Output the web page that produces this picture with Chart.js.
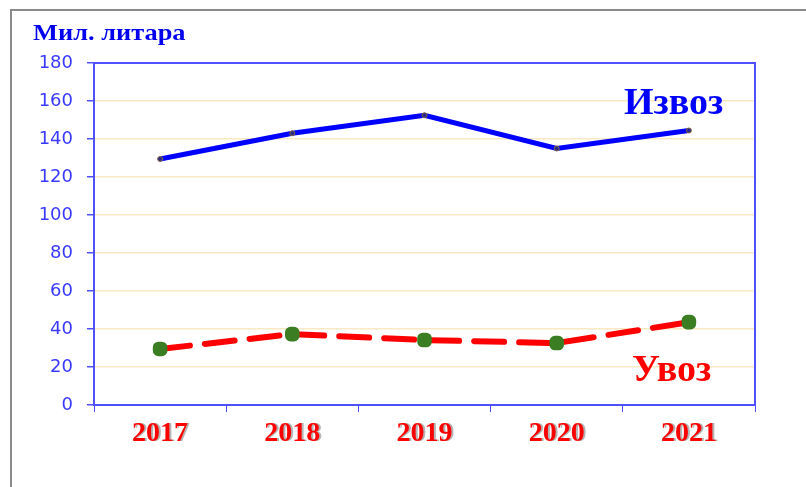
<!DOCTYPE html>
<html>
<head>
<meta charset="utf-8">
<script src="https://cdn.jsdelivr.net/npm/chart.js@4"></script>
<style>
  html, body { margin: 0; padding: 0; background: #fff; }
  #wrap { position: relative; width: 806px; height: 487px; }
  #frame { position: absolute; left: 10px; top: 9px; right: 0; bottom: 0;
           border-top: 2px solid #8a8a8a; border-left: 2px solid #8a8a8a; }
</style>
</head>
<body>
<div id="wrap">
  <div id="frame"></div>
  <canvas id="uvozIzvozChart" width="806" height="487"></canvas>
</div>
<script>
// podaci sa slike (mil. litara)
const godine = ['2017', '2018', '2019', '2020', '2021'];
const izvoz = [129.5, 143, 152.5, 135, 144.5];
const uvoz = [29.5, 37.3, 34.2, 32.6, 43.6];
const yTicks = [0, 20, 40, 60, 80, 100, 120, 140, 160, 180];

const naslov = 'Мил. литара';
const labelIzvoz = 'Извоз';
const labelUvoz = 'Увоз';

const serif = '"Liberation Serif", "DejaVu Serif", serif';

// tekstovi, okvir i senka za godine
const tekstPlugin = {
    id: 'tekstPlugin',
    beforeDraw(chart) {
        const ctx = chart.ctx;
        const x = chart.scales.x;
        ctx.save();
        ctx.font = 'bold 28px ' + serif;
        ctx.fillStyle = 'rgba(120,120,120,0.55)';
        ctx.textAlign = 'center';
        ctx.textBaseline = 'middle';
        godine.forEach((g, i) => {
            ctx.fillText(g, x.getPixelForTick(i) + 2, 432 + 2);
        });
        ctx.restore();
    },
    afterDraw(chart) {
        const ctx = chart.ctx;
        const a = chart.chartArea;
        ctx.save();
        // okvir oko grafikona (gornja i desna ivica)
        ctx.strokeStyle = '#5050ff';
        ctx.lineWidth = 2;
        ctx.beginPath();
        ctx.moveTo(a.left, a.top);
        ctx.lineTo(a.right, a.top);
        ctx.lineTo(a.right, a.bottom);
        ctx.stroke();

        ctx.textBaseline = 'alphabetic';
        ctx.textAlign = 'left';
        ctx.fillStyle = '#0000ee';
        ctx.font = 'bold 24px ' + serif;
        ctx.save();
        ctx.translate(33, 40);
        ctx.scale(1.1, 1);
        ctx.fillText(naslov, 0, 0);
        ctx.restore();

        ctx.fillStyle = '#0000ff';
        ctx.font = 'bold 38px ' + serif;
        ctx.fillText(labelIzvoz, 624, 114);

        ctx.fillStyle = '#ff0000';
        ctx.font = 'bold 38px ' + serif;
        ctx.fillText(labelUvoz, 632, 381);
        ctx.restore();
    }
};

const ctx = document.getElementById('uvozIzvozChart').getContext('2d');

const myChart = new Chart(ctx, {
    type: 'line',
    data: {
        labels: godine,
        datasets: [{
            label: labelIzvoz,
            data: izvoz,
            borderColor: '#0000ff',
            borderWidth: 5,
            pointRadius: 2.5,
            pointBackgroundColor: '#2a2a8a',
            pointBorderColor: '#8a6a3a',
            pointBorderWidth: 1,
            tension: 0
        },
        {
            label: labelUvoz,
            data: uvoz,
            borderColor: '#ff0000',
            borderWidth: 6,
            borderDash: [30, 15],
            borderCapStyle: 'round',
            pointStyle: 'rectRounded',
            pointRadius: 5,
            pointBackgroundColor: '#3a7d23',
            pointBorderColor: '#3a7d23',
            tension: 0
        }]
    },
    options: {
        responsive: false,
        animation: false,
        layout: { padding: { top: 63, right: 51, bottom: 0, left: 0 } },
        plugins: {
            legend: { display: false },
            tooltip: { enabled: false }
        },
        scales: {
            x: {
                offset: true,
                afterFit(scale) { scale.height = 82; },
                grid: {
                    offset: true,
                    drawOnChartArea: false,
                    tickLength: 7,
                    color: '#5050ff',
                    lineWidth: 1
                },
                border: { color: '#5050ff', width: 2 },
                ticks: {
                    color: '#ff0000',
                    font: { family: serif, size: 28, weight: 'bold' },
                    padding: 5,
                    maxRotation: 0
                }
            },
            y: {
                min: 0,
                max: 180,
                afterFit(scale) { scale.width = 94; },
                afterBuildTicks(scale) {
                    scale.ticks = yTicks.map(v => ({ value: v }));
                },
                grid: {
                    color: '#fbe8c4',
                    lineWidth: 1.5,
                    tickLength: 7,
                    drawTicks: true,
                    tickColor: '#5050ff'
                },
                border: { color: '#5050ff', width: 2 },
                ticks: {
                    color: '#3a3aff',
                    font: { family: '"DejaVu Sans", sans-serif', size: 18 },
                    padding: 14
                }
            }
        }
    },
    plugins: [tekstPlugin]
});
</script>
</body>
</html>
